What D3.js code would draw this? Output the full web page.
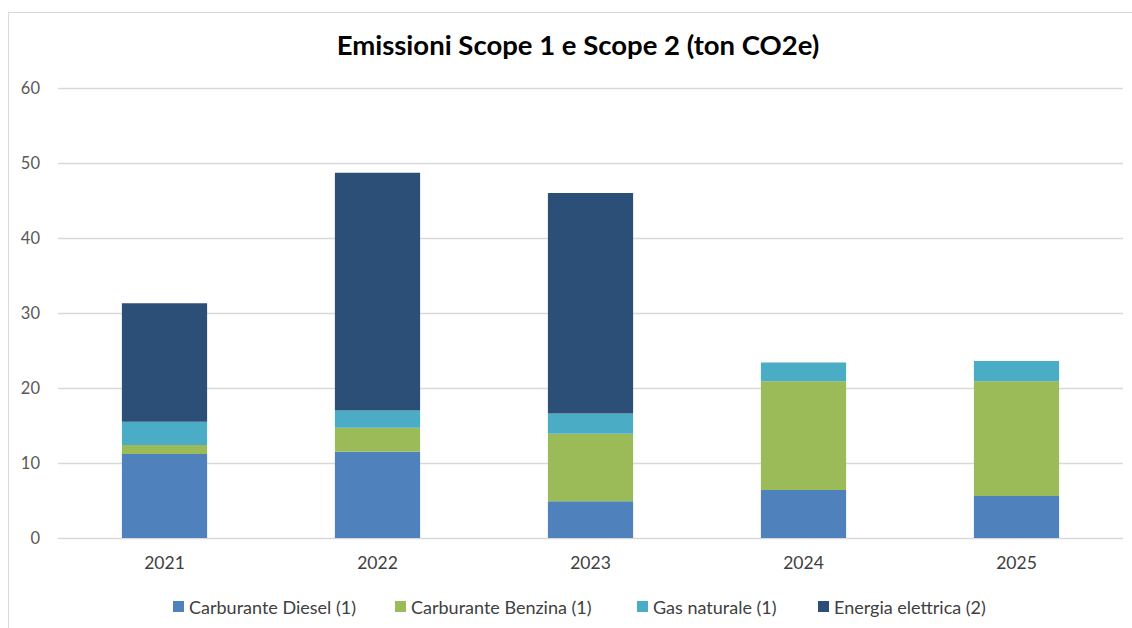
<!DOCTYPE html>
<html lang="it">
  <head>
    <meta charset="UTF-8" />
    <title>Emissioni Scope 1 e Scope 2</title>
    <script src="https://d3js.org/d3.v7.min.js"></script>
    <style>
      body {
        margin: 0;
        background: #ffffff;
        font-family: Lato, "Open Sans", sans-serif;
      }
      svg {
        display: block;
      }
    </style>
  </head>
  <body>
    <svg id="chart" width="1132" height="628"></svg>

    <script>
      const years = ["2021", "2022", "2023", "2024", "2025"];
      const series = ["Carburante Diesel (1)", "Carburante Benzina (1)", "Gas naturale (1)", "Energia elettrica (2)"];
      const diesel = [11.2, 11.5, 4.9, 6.4, 5.6];
      const benzina = [1.2, 3.2, 9.0, 14.5, 15.3];
      const gas = [3.1, 2.3, 2.7, 2.5, 2.7];
      const energia = [15.8, 31.7, 29.4, 0, 0];
      const yTicks = [0, 10, 20, 30, 40, 50, 60];
      const colors = ["#4f81bd", "#9bbb59", "#4bacc6", "#2c4f77"];

      const values = [diesel, benzina, gas, energia];
      const rows = years.map((yr, i) => {
        const r = {year: yr};
        series.forEach((s, j) => (r[s] = values[j][i]));
        return r;
      });

      const svg = d3.select("#chart");
      const plotLeft = 58, plotRight = 1123, plotTop = 88, plotBottom = 538;

      // chart border
      svg.append("rect")
        .attr("x", 8.5).attr("y", 12.5)
        .attr("width", 1140).attr("height", 640)
        .attr("fill", "none").attr("stroke", "#d9d9d9");

      svg.append("text")
        .attr("x", 578).attr("y", 55)
        .attr("text-anchor", "middle")
        .attr("font-size", 27.5).attr("font-weight", 700)
        .attr("fill", "#000")
        .text("Emissioni Scope 1 e Scope 2 (ton CO2e)");

      const x = d3.scaleBand().domain(years).range([plotLeft, plotRight]).paddingInner(0.6).paddingOuter(0.3);
      const y = d3.scaleLinear().domain([0, 60]).range([plotBottom, plotTop]);

      // grid
      svg.append("g")
        .selectAll("line")
        .data(yTicks)
        .join("line")
        .attr("x1", plotLeft).attr("x2", plotRight)
        .attr("y1", d => Math.round(y(d)) + 0.5)
        .attr("y2", d => Math.round(y(d)) + 0.5)
        .attr("stroke", "#d9d9d9").attr("stroke-width", 1.3);

      const yAxis = svg.append("g")
        .attr("transform", `translate(${plotLeft},0)`)
        .call(d3.axisLeft(y).tickValues(yTicks).tickSize(0).tickPadding(18));
      yAxis.select(".domain").remove();
      yAxis.selectAll("text").attr("font-size", 16.5).attr("fill", "#595959").attr("font-family", "Lato, sans-serif");

      const xAxis = svg.append("g")
        .attr("transform", `translate(0,${plotBottom})`)
        .call(d3.axisBottom(x).tickSize(0).tickPadding(19));
      xAxis.select(".domain").remove();
      xAxis.selectAll("text").attr("font-size", 17.5).attr("fill", "#404040").attr("font-family", "Lato, sans-serif");

      const stacked = d3.stack().keys(series)(rows);

      svg.append("g")
        .selectAll("g")
        .data(stacked)
        .join("g")
        .attr("fill", (d, i) => colors[i])
        .selectAll("rect")
        .data(d => d.filter(p => p[1] > p[0]))
        .join("rect")
        .attr("x", d => x(d.data.year))
        .attr("width", x.bandwidth())
        .attr("y", d => y(d[1]))
        .attr("height", d => y(d[0]) - y(d[1]));

      // legend
      const legendX = [173, 395, 637, 818];
      const legend = svg.append("g")
        .selectAll("g")
        .data(series)
        .join("g")
        .attr("transform", (d, i) => `translate(${legendX[i]},607)`);
      legend.append("rect")
        .attr("x", 0).attr("y", -6)
        .attr("width", 11).attr("height", 11)
        .attr("fill", (d, i) => colors[i]);
      legend.append("text")
        .attr("x", 16).attr("y", 6.5)
        .attr("font-size", 18).attr("fill", "#404040")
        .text(d => d);
    </script>
  </body>
</html>
